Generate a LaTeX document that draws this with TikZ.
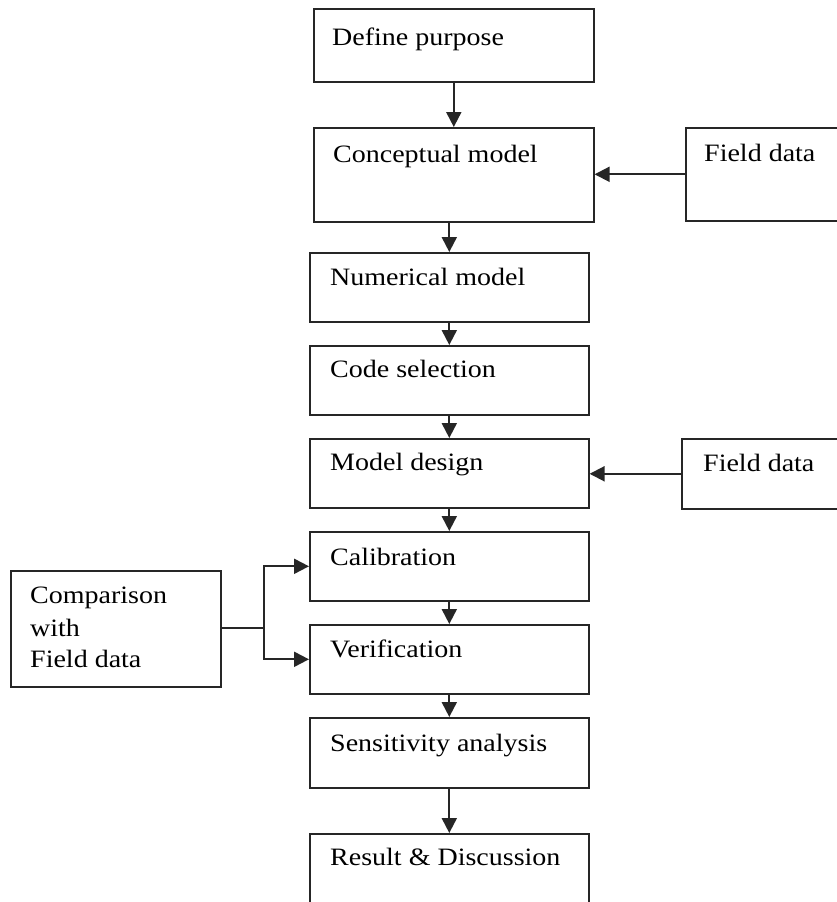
\documentclass[tikz,border=0pt]{standalone}
\usepackage{fontspec}
\setmainfont{Liberation Serif}[FakeStretch=1.12]
\usetikzlibrary{arrows.meta}
\begin{document}
\begin{tikzpicture}[x=1pt,y=-1pt,
  box/.style={draw=black!85,line width=1.6pt,rectangle,anchor=north west,inner sep=0pt},
  lbl/.style={anchor=base west,inner sep=0pt,font=\fontsize{25}{32}\selectfont,text=black},
  arr/.style={draw=black!85,line width=2pt,-{Triangle[length=15pt,width=15pt]}},
  ln/.style={draw=black!85,line width=2pt}]
\clip (0,0) rectangle (837,902);
\fill[white] (0,0) rectangle (837,902);
% boxes
\node[box,minimum width=280pt,minimum height=73pt] (dp) at (313,8) {};
\node[box,minimum width=280pt,minimum height=94pt] (cm) at (313,127) {};
\node[box,minimum width=279pt,minimum height=69pt] (nm) at (309,252) {};
\node[box,minimum width=279pt,minimum height=69pt] (cs) at (309,345) {};
\node[box,minimum width=279pt,minimum height=69pt] (md) at (309,438) {};
\node[box,minimum width=279pt,minimum height=69pt] (cal) at (309,531) {};
\node[box,minimum width=279pt,minimum height=69pt] (ver) at (309,624) {};
\node[box,minimum width=279pt,minimum height=70pt] (sa) at (309,717) {};
\node[box,minimum width=279pt,minimum height=90pt] (rd) at (309,833) {};
\node[box,minimum width=170pt,minimum height=93pt] (fd1) at (685,127) {};
\node[box,minimum width=170pt,minimum height=70pt] (fd2) at (681,438) {};
\node[box,minimum width=210pt,minimum height=116pt] (cmp) at (10,570) {};
% labels
\node[lbl] (tdp) at (332,45) {Define purpose};
\node[lbl] (tcm) at (333,162) {Conceptual model};
\node[lbl] (tnm) at (330,285) {Numerical model};
\node[lbl] (tcs) at (330,377) {Code selection};
\node[lbl] (tmd) at (330,470) {Model design};
\node[lbl] (tcal) at (330,565) {Calibration};
\node[lbl] (tver) at (330,657) {Verification};
\node[lbl] (tsa) at (330,751) {Sensitivity analysis};
\node[lbl] (trd) at (330,865) {Result \& Discussion};
\node[lbl] (tfd1) at (704,161) {Field data};
\node[lbl] (tfd2) at (703,471) {Field data};
\node[lbl] (tc1) at (30,603) {Comparison};
\node[lbl] (tc2) at (30,636) {with};
\node[lbl] (tc3) at (30,667) {Field data};
% connectors
\draw[arr] (dp.south) -- (cm.north);
\draw[arr] (cm.south -| nm.north) -- (nm.north);
\draw[arr] (nm.south) -- (cs.north);
\draw[arr] (cs.south) -- (md.north);
\draw[arr] (md.south) -- (cal.north);
\draw[arr] (cal.south) -- (ver.north);
\draw[arr] (ver.south) -- (sa.north);
\draw[arr] (sa.south) -- (rd.north);
\draw[arr] (fd1.west) -- (fd1.west -| cm.east);
\draw[arr] (fd2.west) -- (fd2.west -| md.east);
\coordinate (j) at (264,628);
\draw[ln] (cmp.east |- j) -- (j);
\draw[arr] (j) |- (cal.west);
\draw[arr] (j) |- (ver.west);
\end{tikzpicture}
\end{document}
